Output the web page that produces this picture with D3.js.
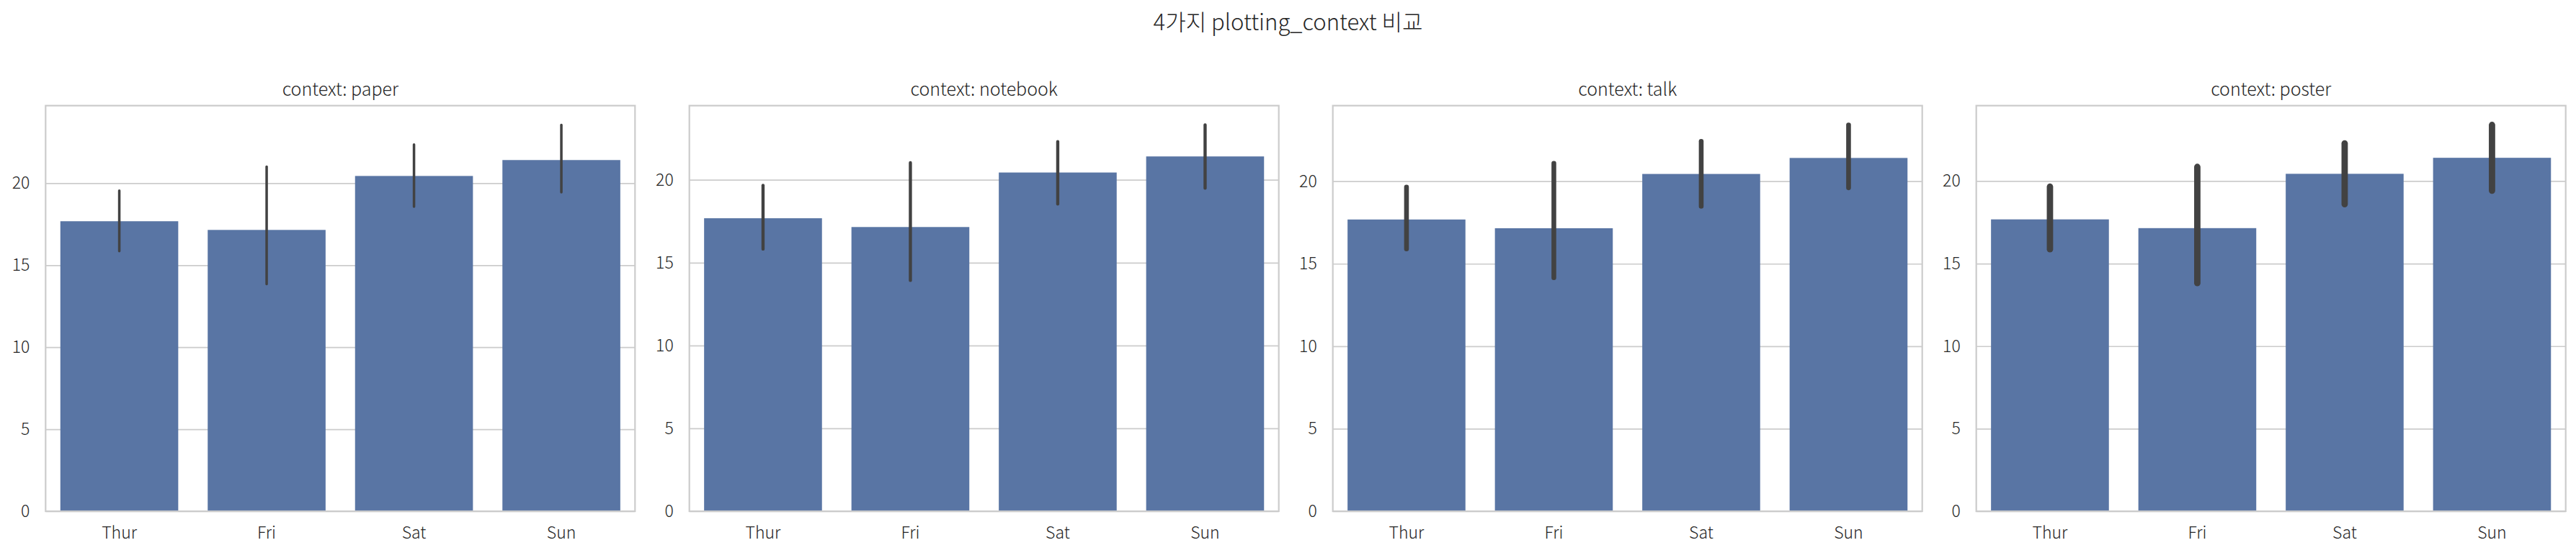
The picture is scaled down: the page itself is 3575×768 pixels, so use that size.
<!DOCTYPE html>
<html>
<head>
<meta charset="utf-8">
<script src="https://cdn.jsdelivr.net/npm/d3@7"></script>
<style>
  body { margin: 0; background: #fff; }
  text { font-family: "Noto Sans CJK KR", "Noto Sans", sans-serif; font-weight: 300; fill: #262626; }
</style>
</head>
<body>
<div id="chart"></div>
<script>
/* DATA */
const days = ["Thur", "Fri", "Sat", "Sun"];
const means = [17.68, 17.15, 20.44, 21.41];
const contexts = ["paper", "notebook", "talk", "poster"];
// bootstrap CI [low, high] per day, one list per context
const ciPaper = [[15.86, 19.54], [13.85, 21.0], [18.57, 22.35], [19.45, 23.55]];
const ciNotebook = [[15.82, 19.66], [13.93, 21.03], [18.54, 22.3], [19.5, 23.31]];
const ciTalk = [[15.9, 19.64], [14.15, 21.08], [18.48, 22.42], [19.6, 23.41]];
const ciPoster = [[15.87, 19.66], [13.82, 20.86], [18.6, 22.28], [19.42, 23.4]];
const yTicks = [0, 5, 10, 15, 20];
const suptitle = "4가지 plotting_context 비교";

const cis = [ciPaper, ciNotebook, ciTalk, ciPoster];

/* CONSTANTS */
const width = 3575, height = 768;
const panelLeft = [63.3, 956.7, 1849.7, 2742.7],
  panelW = 818,
  plotTop = 146.7, plotBottom = 710;
// error bar width grows with the context scale
const ctxScale = { paper: 0.8, notebook: 1, talk: 1.5, poster: 2 };

const svg = d3.select("#chart")
  .append("svg")
  .attr("width", width)
  .attr("height", height);

svg.append("text")
  .attr("x", width / 2)
  .attr("y", 42)
  .attr("text-anchor", "middle")
  .style("font-size", "31px")
  .text(suptitle);

contexts.forEach((ctx, i) => {
  const x0 = panelLeft[i];
  const ci = cis[i];
  const rows = days.map((d, j) => ({ day: d, mean: means[j], lo: ci[j][0], hi: ci[j][1] }));

  const xScale = d3.scaleBand()
    .domain(days)
    .range([x0, x0 + panelW])
    .paddingInner(0.2)
    .paddingOuter(0.1);

  const yScale = d3.scaleLinear()
    .domain([0, d3.max(rows, d => d.hi) * 1.05])
    .range([plotBottom, plotTop]);

  const g = svg.append("g").attr("class", "panel");

  // grid
  g.append("g")
    .attr("transform", `translate(${x0},0)`)
    .call(d3.axisLeft(yScale).tickValues(yTicks).tickSize(-panelW).tickFormat(""))
    .call(a => a.select(".domain").remove())
    .call(a => a.selectAll("line").attr("stroke", "#cccccc").attr("stroke-width", 1.7));

  // bars
  g.selectAll("rect.bar")
    .data(rows)
    .join("rect")
    .attr("class", "bar")
    .attr("x", d => xScale(d.day))
    .attr("width", xScale.bandwidth())
    .attr("y", d => yScale(d.mean))
    .attr("height", d => yScale(0) - yScale(d.mean))
    .attr("fill", "#5975a4");

  // error bars
  g.selectAll("line.err")
    .data(rows)
    .join("line")
    .attr("class", "err")
    .attr("x1", d => xScale(d.day) + xScale.bandwidth() / 2)
    .attr("x2", d => xScale(d.day) + xScale.bandwidth() / 2)
    .attr("y1", d => yScale(d.lo))
    .attr("y2", d => yScale(d.hi))
    .attr("stroke", "#424242")
    .attr("stroke-width", 4.4 * ctxScale[ctx])
    .attr("stroke-linecap", "round");

  // spines
  g.append("rect")
    .attr("x", x0)
    .attr("y", plotTop)
    .attr("width", panelW)
    .attr("height", plotBottom - plotTop)
    .attr("fill", "none")
    .attr("stroke", "#cccccc")
    .attr("stroke-width", 2.2);

  // axes labels
  g.append("g")
    .attr("transform", `translate(${x0},0)`)
    .call(d3.axisLeft(yScale).tickValues(yTicks).tickSize(0).tickPadding(22))
    .call(a => a.select(".domain").remove())
    .call(a => a.selectAll("text").style("font-size", "23px").attr("fill", "#262626"));

  g.append("g")
    .attr("transform", `translate(0,${plotBottom})`)
    .call(d3.axisBottom(xScale).tickSize(0).tickPadding(22))
    .call(a => a.select(".domain").remove())
    .call(a => a.selectAll("text").style("font-size", "23px").attr("fill", "#262626"));

  g.append("text")
    .attr("x", x0 + panelW / 2)
    .attr("y", 133)
    .attr("text-anchor", "middle")
    .style("font-size", "25px")
    .text(`context: ${ctx}`);
});
</script>
</body>
</html>
